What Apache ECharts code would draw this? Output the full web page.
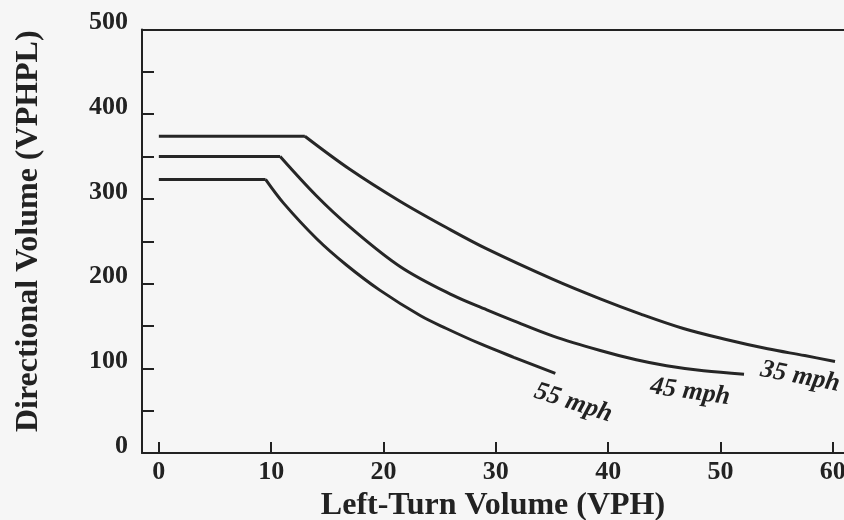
<!DOCTYPE html>
<html>
<head>
<meta charset="utf-8">
<script src="https://cdn.jsdelivr.net/npm/echarts@6/dist/echarts.min.js"></script>
<style>
html,body{margin:0;padding:0;background:#f6f6f6;}
#c{width:844px;height:520px;}
</style>
</head>
<body>
<div id="c"></div>
<script>
const xTickValues = [0, 10, 20, 30, 40, 50, 60];
const yLabelValues = [0, 100, 200, 300, 400, 500];
const yTickValues = [50, 100, 150, 200, 250, 300, 350, 400, 450];
const speedNames = ['35 mph', '45 mph', '55 mph'];
// flat (capacity) parts
const flat35 = [[0,374],[13,374]];
const flat45 = [[0,350],[10.8,350]];
const flat55 = [[0,323],[9.5,323]];
// descending parts
const curve35 = [[13,374],[17,335],[21.5,297],[25.9,264],[29.2,241],[35.1,205],[39.3,182],[42.9,164],[46.7,147],[50.5,134],[54.2,123],[57.5,115],[60.2,108]];
const curve45 = [[10.8,350],[14,304],[17,267],[21.5,220],[26.2,186],[29.2,169],[31.6,156],[35.1,138],[39.3,121],[42.5,110],[45.2,103],[48.5,97],[52.1,93]];
const curve55 = [[9.5,323],[11.1,295],[14.05,253],[16.7,222],[19.7,192],[23.3,162],[25.6,147],[28.6,129],[31.6,113],[35.3,94]];

const serif = '"Liberation Serif", "Times New Roman", serif';
const ink = '#222';
const lineCol = '#262626';

function flatSeries(name, data) {
  return {type: 'line', name: name, data: data, showSymbol: false, symbol: 'none',
    lineStyle: {color: lineCol, width: 3}, z: 3};
}
function curveSeries(name, data, labelCoord, rot) {
  return {
    type: 'line', name: name, data: data, showSymbol: false, symbol: 'none', smooth: 0.35,
    lineStyle: {color: lineCol, width: 3}, z: 3,
    markPoint: {
      symbol: 'circle', symbolSize: 0, silent: true,
      label: {show: true, position: 'inside', formatter: name, rotate: rot,
        fontFamily: serif, fontWeight: 'bold', fontStyle: 'italic', fontSize: 26, color: ink},
      data: [{coord: labelCoord}]
    }
  };
}

const chart = echarts.init(document.getElementById('c'), null, {renderer: 'canvas'});
chart.setOption({
  backgroundColor: '#f6f6f6',
  animation: false,
  grid: {left: 142, right: 0, top: 29.5, bottom: 67, containLabel: false, outerBoundsMode: 'none'},
  xAxis: [{
    type: 'value', min: -1.5, max: 61, position: 'bottom',
    name: 'Left-Turn Volume (VPH)', nameLocation: 'middle', nameGap: 37,
    nameTextStyle: {fontFamily: serif, fontWeight: 'bold', fontSize: 32, color: ink},
    axisLine: {show: true, onZero: false, lineStyle: {color: ink, width: 2}},
    axisTick: {show: true, inside: true, length: 11, customValues: xTickValues, lineStyle: {color: ink, width: 2}},
    axisLabel: {show: true, customValues: xTickValues, margin: 6, fontFamily: serif, fontWeight: 'bold', fontSize: 26, color: ink},
    splitLine: {show: false}
  }, {
    type: 'value', min: -1.5, max: 61, position: 'top',
    axisLine: {show: true, onZero: false, lineStyle: {color: ink, width: 2}},
    axisTick: {show: false}, axisLabel: {show: false}, splitLine: {show: false}
  }],
  yAxis: [{
    type: 'value', min: 0, max: 500,
    name: 'Directional Volume (VPHPL)', nameLocation: 'middle', nameGap: 97,
    nameTextStyle: {fontFamily: serif, fontWeight: 'bold', fontSize: 32, color: ink, padding: [0, 0, 0, 20]},
    axisLine: {show: true, onZero: false, lineStyle: {color: ink, width: 2}},
    axisTick: {show: true, inside: true, length: 12, customValues: yTickValues, lineStyle: {color: ink, width: 2}},
    axisLabel: {show: true, customValues: yLabelValues, margin: 14, verticalAlign: 'bottom', lineHeight: 14, fontFamily: serif, fontWeight: 'bold', fontSize: 26, color: ink},
    splitLine: {show: false}
  }],
  series: [
    flatSeries(speedNames[0], flat35),
    curveSeries(speedNames[0], curve35, [57.1, 90], -11),
    flatSeries(speedNames[1], flat45),
    curveSeries(speedNames[1], curve45, [47.3, 72], -8),
    flatSeries(speedNames[2], flat55),
    curveSeries(speedNames[2], curve55, [36.9, 59], -18)
  ]
});
</script>
</body>
</html>
